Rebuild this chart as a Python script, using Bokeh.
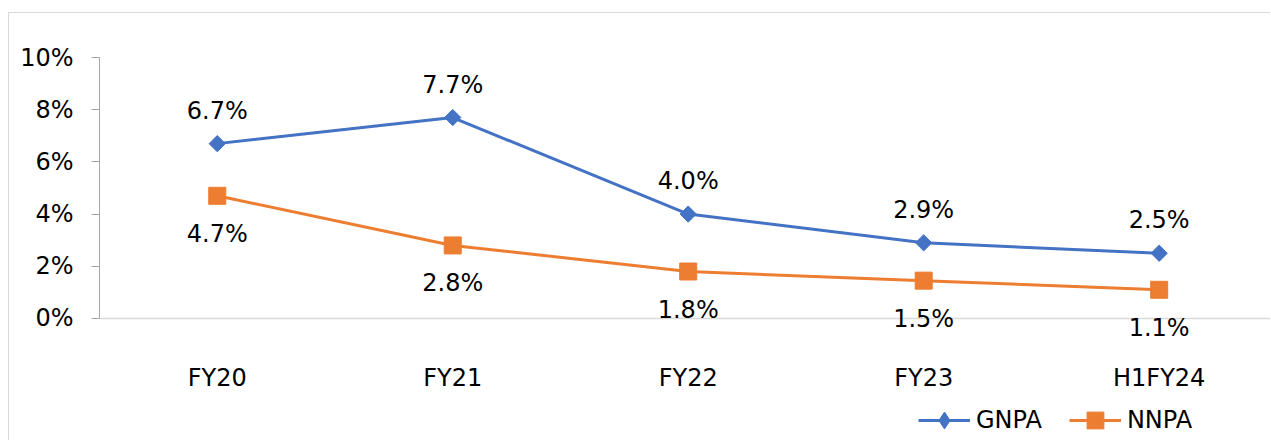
import math
from bokeh.plotting import figure
from bokeh.models import (Range1d, FixedTicker, PrintfTickFormatter, Legend,
                          LegendItem, ColumnDataSource, Span)
from bokeh.core.properties import value
from bokeh.embed import file_html
from bokeh.resources import INLINE

categories = ["FY20", "FY21", "FY22", "FY23", "H1FY24"]
gnpa = [6.7, 7.7, 4.0, 2.9, 2.5]
nnpa = [4.7, 2.8, 1.8, 1.45, 1.1]
gnpa_labels = ["6.7%", "7.7%", "4.0%", "2.9%", "2.5%"]
nnpa_labels = ["4.7%", "2.8%", "1.8%", "1.5%", "1.1%"]
y_ticks = [0, 2, 4, 6, 8, 10]

BLUE = "#4472C4"
ORANGE = "#ED7D31"
FONT = "DejaVu Sans"
FS = "24px"

xs = list(range(len(categories)))
src_g = ColumnDataSource(dict(x=xs, y=gnpa, t=gnpa_labels))
src_n = ColumnDataSource(dict(x=xs, y=nnpa, t=nnpa_labels))
src_c = ColumnDataSource(dict(x=xs, y=[0] * len(xs), t=categories))

p = figure(width=1262, height=428, output_backend="svg", toolbar_location=None,
           x_range=Range1d(-0.5, 4.477), y_range=Range1d(-4.713, 10),
           min_border_left=90, min_border_right=0, min_border_top=44,
           min_border_bottom=0)
p.styles = {"margin-left": "8px", "margin-top": "12px",
            "border-top": "1px solid #D9D9D9",
            "border-left": "1px solid #D9D9D9"}
p.outline_line_color = None
p.xgrid.visible = False
p.ygrid.visible = False
p.xaxis.visible = False
p.background_fill_color = "white"
p.border_fill_color = "white"

# y axis
p.yaxis.bounds = (0, 10)
p.yaxis.ticker = FixedTicker(ticks=y_ticks)
p.yaxis.formatter = PrintfTickFormatter(format="%d%%")
p.yaxis.major_tick_out = 8
p.yaxis.major_tick_in = 0
p.yaxis.minor_tick_out = 0
p.yaxis.minor_tick_in = 0
p.yaxis.axis_line_color = "#A6A6A6"
p.yaxis.major_tick_line_color = "#A6A6A6"
p.yaxis.major_label_standoff = 18
p.yaxis.major_label_text_font = FONT
p.yaxis.major_label_text_font_size = FS
p.yaxis.major_label_text_color = "black"

# category baseline
p.add_layout(Span(location=0, dimension="width", line_color="#D9D9D9",
                  line_width=1.5, level="underlay"))

lg = p.line("x", "y", source=src_g, line_color=BLUE, line_width=3)
# diamond marker (used for the legend swatch), covered by the rotated square
dg = p.scatter("x", "y", source=src_g, marker="diamond", size=11,
               fill_color=BLUE, line_color=BLUE)
mg = p.scatter("x", "y", source=src_g, marker="square", angle=math.pi / 4,
               size=11.5, fill_color=BLUE, line_color=BLUE)
ln = p.line("x", "y", source=src_n, line_color=ORANGE, line_width=3)
mn = p.scatter("x", "y", source=src_n, marker="square", size=17,
               fill_color=ORANGE, line_color=ORANGE)

p.text("x", "y", text="t", source=src_g, text_font=value(FONT),
       text_font_size=value(FS), text_color="black", text_align="center",
       text_baseline="middle", y_offset=-33)
p.text("x", "y", text="t", source=src_n, text_font=value(FONT),
       text_font_size=value(FS), text_color="black", text_align="center",
       text_baseline="middle", y_offset=38)
# category labels
p.text("x", "y", text="t", source=src_c, text_font=value(FONT),
       text_font_size=value(FS), text_color="black", text_align="center",
       text_baseline="middle", y_offset=60)

legend = Legend(items=[LegendItem(label="GNPA", renderers=[lg, dg]),
                       LegendItem(label="NNPA", renderers=[ln, mn])],
                orientation="horizontal", location=(819, 0),
                padding=0, margin=0, spacing=27, glyph_width=52, glyph_height=42,
                label_standoff=6, label_text_font=FONT, label_text_font_size=FS,
                label_text_color="black", border_line_alpha=0,
                background_fill_alpha=0)
p.add_layout(legend, "center")

open("out.html", "w").write(file_html(p, INLINE))
